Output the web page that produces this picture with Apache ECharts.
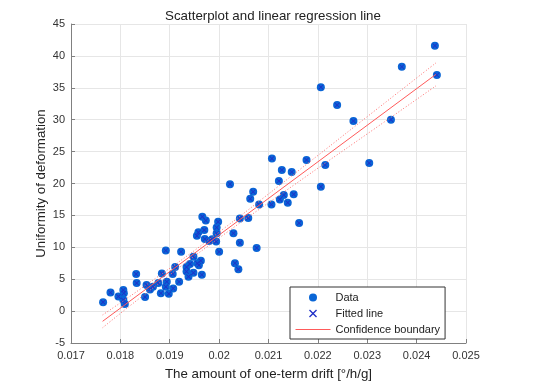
<!DOCTYPE html>
<html>
<head>
<meta charset="utf-8">
<script src="https://cdn.jsdelivr.net/npm/echarts@6/dist/echarts.min.js"></script>
<style>html,body{margin:0;padding:0;background:#fff}#c{width:550px;height:388px}</style>
</head>
<body>
<div id="c"></div>
<script>
// One-term drift [°/h/g]
var driftX = [
0.02437,0.02370,0.02441,0.02272,0.02348,0.02304,0.02206,0.02239,0.02107,0.02177,
0.02215,0.02127,0.02147,0.02121,0.02206,0.02069,0.02063,0.02131,0.02151,0.02123,
0.02139,0.02081,0.02106,0.02162,0.02059,0.02042,0.02042,0.02076,0.02022,0.01966,
0.01973,0.01998,0.01995,0.01970,0.01958,0.01995,0.01955,0.02029,0.01971,0.01980,
0.01986,0.01994,0.02000,0.01892,0.01923,0.01948,0.01963,0.01941,0.01959,0.02032,
0.02039,0.01911,0.01934,0.01934,0.01948,0.01832,0.01833,0.01884,0.01906,0.01894,
0.01919,0.01853,0.01877,0.01866,0.01892,0.01907,0.01882,0.01898,0.01850,0.01806,
0.01780,0.01807,0.01796,0.01806,0.01809,0.01765,0.01965,0.01938,0.01956,0.01860
];
// Uniformity of deformation
var uniformityY = [
41.6,38.3,37.0,29.8,30.0,23.2,35.1,32.3,23.9,23.7,
22.9,22.1,21.8,20.4,19.5,18.7,17.6,18.2,18.3,17.5,
17.0,16.7,16.7,13.8,14.6,14.5,10.7,9.9,19.9,14.8,
14.2,14.0,13.1,12.7,12.35,12.2,11.8,12.2,11.3,11.0,
11.25,10.9,9.3,9.5,9.3,8.5,7.9,7.4,7.2,7.5,
6.55,6.9,6.9,6.2,6.0,5.8,4.4,5.9,5.8,4.6,
4.6,4.1,4.4,3.8,3.8,3.55,2.8,2.7,2.2,3.3,
2.9,2.8,2.3,1.75,1.1,1.4,5.7,5.4,7.5,3.4
];
// Regression line and confidence boundaries
var lineX = [0.01764, 0.02439];
var lineY = [-1.6, 37.1];
var boundX = [0.01764, 0.0185, 0.0198, 0.0215, 0.0230, 0.02439];
var upperY = [-0.6, 3.98, 11.23, 21.38, 30.48, 38.9];
var lowerY = [-2.6, 2.68, 10.33, 19.68, 27.78, 35.3];
// Axis ticks
var xMin = 0.017, xMax = 0.025, xStep = 0.001;
var yMin = -5, yMax = 45, yStep = 5;

function zip(a, b) { return a.map(function (v, i) { return [v, b[i]]; }); }

var FONT = "'Liberation Sans', Arial, sans-serif";
var RED = '#ff5a5a';
var crossPath = 'path://M0,0.12L0.12,0L0.5,0.38L0.88,0L1,0.12L0.62,0.5L1,0.88L0.88,1L0.5,0.62L0.12,1L0,0.88L0.38,0.5Z';

var chart = echarts.init(document.getElementById('c'), null, {renderer: 'canvas'});
chart.setOption({
  animation: false,
  backgroundColor: '#fff',
  title: {
    text: 'Scatterplot and linear regression line',
    left: 268, top: 5, textAlign: 'center',
    textStyle: {fontFamily: FONT, fontSize: 13.3, fontWeight: 'normal', color: '#222'}
  },
  grid: {left: 71, top: 24, right: 84, bottom: 45, containLabel: false},
  legend: {
    orient: 'vertical', left: 290, top: 287,
    backgroundColor: '#fff', borderColor: '#333', borderWidth: 1, borderRadius: 0,
    padding: [5, 5, 4, 5],
    itemWidth: 35, itemHeight: 8, itemGap: 5,
    lineStyle: {color: RED, width: 1},
    textStyle: {fontFamily: FONT, fontSize: 11, color: '#222'},
    data: [
      {name: 'Data', icon: 'circle'},
      {name: 'Fitted line', icon: crossPath},
      {name: 'Confidence boundary',
        itemStyle: {color: 'rgba(0,0,0,0)', borderWidth: 0, borderColor: 'rgba(0,0,0,0)'}}
    ]
  },
  xAxis: {
    type: 'value', min: xMin, max: xMax, interval: xStep,
    name: 'The amount of one-term drift [°/h/g]', nameLocation: 'middle', nameGap: 25,
    nameMoveOverlap: false,
    nameTextStyle: {fontFamily: FONT, fontSize: 13.3, color: '#222'},
    axisLine: {show: true, onZero: false, lineStyle: {color: '#808080', width: 1}},
    axisTick: {show: true, inside: true, length: 4, lineStyle: {color: '#808080'}},
    axisLabel: {fontFamily: FONT, fontSize: 11, color: '#333', margin: 7,
      formatter: function (v) { return String(parseFloat(v.toFixed(3))); }},
    splitLine: {show: true, lineStyle: {color: '#e6e6e6', width: 1}}
  },
  yAxis: {
    type: 'value', min: yMin, max: yMax, interval: yStep,
    name: 'Uniformity of deformation', nameLocation: 'middle', nameGap: 23,
    nameMoveOverlap: false,
    nameTextStyle: {fontFamily: FONT, fontSize: 13.3, color: '#222'},
    axisLine: {show: true, onZero: false, lineStyle: {color: '#808080', width: 1}},
    axisTick: {show: true, inside: true, length: 4, lineStyle: {color: '#808080'}},
    axisLabel: {fontFamily: FONT, fontSize: 11, color: '#333', margin: 6},
    splitLine: {show: true, lineStyle: {color: '#e6e6e6', width: 1}}
  },
  series: [
    {
      name: 'Data', type: 'scatter', data: zip(driftX, uniformityY),
      symbol: 'circle', symbolSize: 8, z: 2,
      itemStyle: {color: '#0a66d6', opacity: 1}
    },
    {
      name: 'Fitted line', type: 'scatter', data: zip(driftX, uniformityY),
      symbol: crossPath, symbolSize: 5, symbolKeepAspect: true, z: 3,
      itemStyle: {color: '#2030c8', opacity: 1}
    },
    {
      name: 'Confidence boundary', type: 'line', data: zip(lineX, lineY),
      symbol: 'none', z: 4,
      itemStyle: {color: RED},
      lineStyle: {color: RED, width: 1}
    },
    {
      name: 'upper', type: 'line', data: zip(boundX, upperY), smooth: true,
      symbol: 'none', z: 4,
      lineStyle: {color: '#ff7070', width: 1, type: [1, 2]}
    },
    {
      name: 'lower', type: 'line', data: zip(boundX, lowerY), smooth: true,
      symbol: 'none', z: 4,
      lineStyle: {color: '#ff7070', width: 1, type: [1, 2]}
    }
  ]
});
</script>
</body>
</html>
